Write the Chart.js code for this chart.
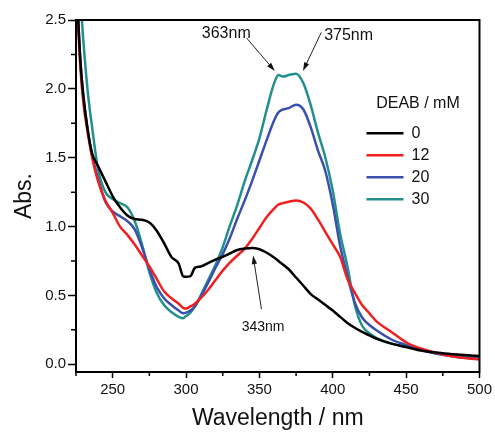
<!DOCTYPE html>
<html>
<head>
<meta charset="utf-8">
<script src="https://cdn.jsdelivr.net/npm/chart.js@4.4.1/dist/chart.umd.min.js"></script>
<style>
    html, body { margin: 0; padding: 0; background: #fff; }
    #wrap { width: 495px; height: 434px; }
</style>
</head>
<body>
<div id="wrap"><canvas id="chart" width="495" height="434"></canvas></div>
<script>
const wavelengths = [225, 228, 230, 233, 236, 240, 245, 250, 255, 260, 265, 270, 275, 280, 285, 290, 295, 298,
    300, 303, 306, 310, 315, 320, 325, 330, 335, 340, 345, 350, 355, 360, 363, 366, 370, 375, 380, 385, 390,
    395, 400, 405, 410, 415, 420, 425, 430, 440, 450, 460, 470, 480, 490, 500];

// DEAB 0 mM
const abs0 = [2.85, 2.2, 1.95, 1.7, 1.53, 1.44, 1.33, 1.22, 1.14, 1.08, 1.055, 1.05, 1.03, 0.97, 0.88, 0.78, 0.73, 0.64,
    0.635, 0.64, 0.70, 0.71, 0.735, 0.76, 0.78, 0.805, 0.83, 0.84, 0.845, 0.835, 0.81, 0.775, 0.75, 0.725, 0.69, 0.63, 0.57, 0.51, 0.47,
    0.43, 0.39, 0.345, 0.30, 0.265, 0.235, 0.21, 0.185, 0.15, 0.125, 0.10, 0.085, 0.075, 0.067, 0.06];
// DEAB 12 mM
const abs12 = [2.8, 2.15, 1.9, 1.68, 1.5, 1.33, 1.19, 1.10, 1.0, 0.94, 0.87, 0.79, 0.71, 0.62, 0.53, 0.48, 0.44, 0.41,
    0.405, 0.42, 0.44, 0.48, 0.54, 0.61, 0.68, 0.74, 0.79, 0.84, 0.91, 0.99, 1.07, 1.13, 1.16, 1.17, 1.18, 1.19, 1.175, 1.13, 1.05,
    0.96, 0.87, 0.78, 0.62, 0.52, 0.43, 0.37, 0.31, 0.235, 0.16, 0.115, 0.085, 0.06, 0.045, 0.035];
// DEAB 20 mM
const abs20 = [2.85, 2.2, 1.95, 1.7, 1.52, 1.35, 1.18, 1.11, 1.075, 1.04, 0.98, 0.85, 0.69, 0.56, 0.48, 0.43, 0.39, 0.37,
    0.375, 0.39, 0.42, 0.49, 0.59, 0.70, 0.80, 0.92, 1.06, 1.19, 1.33, 1.48, 1.63, 1.77, 1.83, 1.85, 1.86, 1.885, 1.85, 1.72, 1.55,
    1.40, 1.16, 0.86, 0.64, 0.45, 0.34, 0.285, 0.245, 0.18, 0.14, 0.105, 0.078, 0.06, 0.047, 0.04];
// DEAB 30 mM
const abs30 = [3.2, 2.65, 2.35, 1.98, 1.72, 1.42, 1.25, 1.20, 1.17, 1.14, 1.04, 0.87, 0.67, 0.52, 0.43, 0.38, 0.345, 0.335,
    0.35, 0.375, 0.42, 0.50, 0.61, 0.72, 0.85, 1.01, 1.16, 1.33, 1.48, 1.64, 1.85, 2.04, 2.10, 2.09, 2.10, 2.11, 2.04, 1.88, 1.68,
    1.50, 1.26, 0.95, 0.71, 0.43, 0.28, 0.225, 0.19, 0.15, 0.128, 0.105, 0.082, 0.065, 0.055, 0.046];

const seriesLabels = ['0', '12', '20', '30'];
const seriesColors = ['#000000', '#f02020', '#3a4fae', '#22908a'];

const xMinorTicks = [225, 275, 325, 375, 425, 475];
const yMinorTicks = [0.25, 0.75, 1.25, 1.75, 2.25];

// peak labels: text, where the text sits (nm, abs), arrow tail -> head (nm, abs)
const peakTexts = ['363nm', '375nm', '343nm'];
const peakTextAt = [[327.4, 2.40], [410.8, 2.39], [352.5, 0.27]];
const peakArrows = [[341.2, 2.37, 360.5, 2.13], [392.2, 2.41, 379.7, 2.13], [351.4, 0.40, 345.7, 0.79]];

const FONT = "'Liberation Sans', Arial, sans-serif";
Chart.defaults.font.family = FONT;
Chart.defaults.color = '#111';

function _points(ys) {
    return wavelengths.map((w, i) => ({x: w, y: ys[i]}));
}

const allAbs = [abs0, abs12, abs20, abs30];

const extras = {
    id: 'extras',
    afterLayout(chart) {
        // put the legend inside the plot, upper right
        const lg = chart.legend;
        const a = chart.chartArea;
        lg.left = a.right - 119;
        lg.top = a.top + 76;
        lg.width = 115;
        lg.right = lg.left + lg.width;
    },
    afterDatasetsDraw(chart) {
        const {ctx, chartArea: a, scales: {x, y}} = chart;
        ctx.save();
        ctx.strokeStyle = '#000';
        ctx.lineWidth = 2;
        ctx.strokeRect(a.left, a.top, a.right - a.left, a.bottom - a.top);

        // minor ticks
        ctx.lineWidth = 1.5;
        ctx.beginPath();
        xMinorTicks.forEach(v => {
            const px = x.getPixelForValue(v);
            ctx.moveTo(px, a.bottom);
            ctx.lineTo(px, a.bottom + 4);
        });
        yMinorTicks.forEach(v => {
            const py = y.getPixelForValue(v);
            ctx.moveTo(a.left, py);
            ctx.lineTo(a.left - 5, py);
        });
        ctx.stroke();

        // peak labels with arrows
        ctx.fillStyle = '#111';
        ctx.strokeStyle = '#222';
        ctx.lineWidth = 1;
        ctx.textAlign = 'center';
        ctx.textBaseline = 'middle';
        peakTexts.forEach((t, i) => {
            ctx.font = (i === 2 ? 14 : 16) + 'px ' + FONT;
            ctx.fillText(t, x.getPixelForValue(peakTextAt[i][0]), y.getPixelForValue(peakTextAt[i][1]));
            const x1 = x.getPixelForValue(peakArrows[i][0]), y1 = y.getPixelForValue(peakArrows[i][1]);
            const x2 = x.getPixelForValue(peakArrows[i][2]), y2 = y.getPixelForValue(peakArrows[i][3]);
            const ang = Math.atan2(y2 - y1, x2 - x1);
            ctx.beginPath();
            ctx.moveTo(x1, y1);
            ctx.lineTo(x2 - Math.cos(ang) * 6, y2 - Math.sin(ang) * 6);
            ctx.stroke();
            ctx.beginPath();
            ctx.moveTo(x2, y2);
            ctx.lineTo(x2 - Math.cos(ang - 0.3) * 9, y2 - Math.sin(ang - 0.3) * 9);
            ctx.lineTo(x2 - Math.cos(ang + 0.3) * 9, y2 - Math.sin(ang + 0.3) * 9);
            ctx.closePath();
            ctx.fill();
        });
        ctx.restore();
    }
};

new Chart(document.getElementById('chart'), {
    type: 'line',
    data: {
        datasets: seriesLabels.map((lab, i) => ({
            label: lab,
            data: _points(allAbs[i]),
            borderColor: seriesColors[i],
            backgroundColor: seriesColors[i],
            borderWidth: 2.5,
            pointRadius: 0,
            fill: false,
            cubicInterpolationMode: 'monotone'
        }))
    },
    options: {
        responsive: false,
        animation: false,
        devicePixelRatio: 1,
        layout: {
            padding: {top: 20, right: 15, left: 0, bottom: 0}
        },
        scales: {
            x: {
                type: 'linear',
                min: 225,
                max: 500,
                ticks: {
                    stepSize: 50,
                    includeBounds: false,
                    autoSkip: false,
                    maxRotation: 0,
                    padding: 3,
                    color: '#111',
                    font: {size: 15}
                },
                grid: {
                    drawOnChartArea: false,
                    drawTicks: true,
                    tickLength: 6,
                    tickWidth: 1.5,
                    tickColor: '#000'
                },
                border: {color: '#000', width: 2},
                title: {
                    display: true,
                    text: 'Wavelength / nm',
                    color: '#111',
                    font: {size: 23},
                    padding: {top: 0, bottom: 2}
                },
                afterFit: function(scale) {
                    scale.height = 62;
                }
            },
            y: {
                min: -0.056,
                max: 2.5,
                ticks: {
                    stepSize: 0.5,
                    includeBounds: false,
                    padding: 2,
                    color: '#111',
                    font: {size: 15},
                    callback: function(value) {
                        return value.toFixed(1);
                    }
                },
                grid: {
                    drawOnChartArea: false,
                    drawTicks: true,
                    tickLength: 8,
                    tickWidth: 1.5,
                    tickColor: '#000'
                },
                border: {color: '#000', width: 2},
                title: {
                    display: true,
                    text: 'Abs.',
                    color: '#111',
                    font: {size: 23},
                    padding: {top: 11, bottom: 0}
                },
                afterFit: function(scale) {
                    scale.width = 76;
                }
            }
        },
        plugins: {
            tooltip: {enabled: false},
            legend: {
                position: 'chartArea',
                align: 'start',
                labels: {
                    usePointStyle: true,
                    pointStyle: 'line',
                    pointStyleWidth: 37,
                    padding: 6,
                    color: '#111',
                    font: {size: 16}
                },
                title: {
                    display: true,
                    text: 'DEAB / mM',
                    color: '#111',
                    font: {size: 16},
                    padding: {top: 0, bottom: 4}
                }
            }
        }
    },
    plugins: [extras]
});
</script>
</body>
</html>
